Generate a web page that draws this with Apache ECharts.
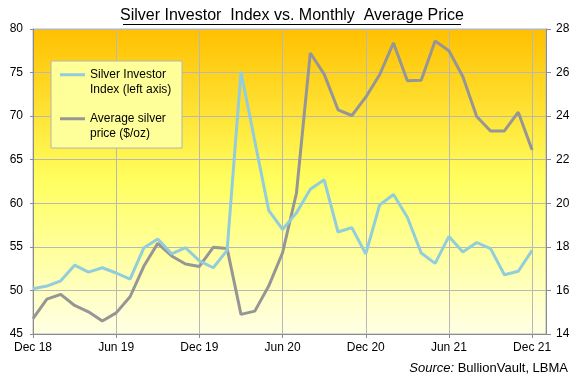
<!DOCTYPE html>
<html>
<head>
<meta charset="utf-8">
<script src="https://cdn.jsdelivr.net/npm/echarts@6/dist/echarts.min.js"></script>
<style>
html,body{margin:0;padding:0;background:#fff;}
#chart{width:575px;height:381px;}
</style>
</head>
<body>
<div id="chart"></div>
<script>
var months = ['Dec 18','Jan 19','Feb 19','Mar 19','Apr 19','May 19','Jun 19','Jul 19','Aug 19','Sep 19','Oct 19','Nov 19',
  'Dec 19','Jan 20','Feb 20','Mar 20','Apr 20','May 20','Jun 20','Jul 20','Aug 20','Sep 20','Oct 20','Nov 20',
  'Dec 20','Jan 21','Feb 21','Mar 21','Apr 21','May 21','Jun 21','Jul 21','Aug 21','Sep 21','Oct 21','Nov 21',
  'Dec 21',''];
var investorIndex = [50.2,50.5,51.1,52.9,52.1,52.6,52.0,51.3,54.9,55.9,54.2,54.9,
  53.4,52.6,54.6,75.1,67.1,59.2,57.0,58.9,61.6,62.7,56.7,57.2,
  54.2,59.8,61.0,58.4,54.3,53.1,56.2,54.4,55.5,54.8,51.8,52.2,
  54.6];
var silverPrice = [14.71,15.60,15.82,15.31,15.02,14.60,14.97,15.71,17.12,18.16,17.58,17.21,
  17.10,17.98,17.93,14.90,15.05,16.20,17.73,20.46,26.90,25.93,24.29,24.03,
  24.87,25.90,27.36,25.62,25.65,27.45,27.00,25.82,23.98,23.32,23.32,24.18,
  22.45];
var seriesNames = ['Silver Investor\nIndex (left axis)', 'Average silver\nprice ($/oz)'];
var titleText = 'Silver Investor  Index vs. Monthly  Average Price';

var chart = echarts.init(document.getElementById('chart'));
var font = 'Liberation Sans, Arial, sans-serif';
chart.setOption({
  animation: false,
  textStyle: {fontFamily: font},
  grid: {
    left: 33, right: 29, top: 29, bottom: 47,
    show: true,
    borderColor: '#b4b4b4', borderWidth: 1,
    backgroundColor: {
      type: 'linear', x: 0, y: 0, x2: 0, y2: 1,
      colorStops: [
        {offset: 0, color: '#FFC000'},
        {offset: 0.5, color: '#FFFF60'},
        {offset: 1, color: '#FFFFE6'}
      ]
    }
  },
  xAxis: {
    type: 'category',
    data: months,
    boundaryGap: false,
    axisLine: {lineStyle: {color: '#8c8c8c', width: 1}},
    axisTick: {interval: 5, length: 4, lineStyle: {color: '#8c8c8c'}},
    axisLabel: {interval: 5, color: '#000', fontSize: 12, margin: 8, fontFamily: font},
    splitLine: {show: true, interval: 5, lineStyle: {color: '#b8b8b8', width: 1}}
  },
  yAxis: [
    {
      type: 'value', min: 45, max: 80, interval: 5, position: 'left',
      axisLine: {show: true, lineStyle: {color: '#8c8c8c'}},
      axisTick: {show: true, length: 3, lineStyle: {color: '#8c8c8c'}},
      axisLabel: {color: '#000', fontSize: 12, margin: 10, fontFamily: font},
      splitLine: {show: true, lineStyle: {color: '#b8b8b8', width: 1}}
    },
    {
      type: 'value', min: 14, max: 28, interval: 2, position: 'right',
      axisLine: {show: true, lineStyle: {color: '#8c8c8c'}},
      axisTick: {show: true, length: 5, lineStyle: {color: '#8c8c8c'}},
      axisLabel: {color: '#000', fontSize: 12, margin: 10, fontFamily: font},
      splitLine: {show: false}
    }
  ],
  legend: {
    orient: 'vertical',
    left: 60, top: 53,
    padding: 0,
    itemGap: 0.5,
    itemWidth: 25, itemHeight: 3,
    icon: 'rect',
    formatter: function (name) { return '\n' + name; },
    textStyle: {color: '#000', fontSize: 12, lineHeight: 14.5, fontFamily: font},
    data: seriesNames
  },
  graphic: [
    {type: 'rect', z: 3, shape: {x: 51, y: 61, width: 131, height: 87},
      style: {fill: '#FFFF99', stroke: '#b4b4b4', lineWidth: 1}},
    {type: 'text', z: 5, x: 292, y: 16,
      style: {text: titleText, fill: '#000', font: '16px ' + font, align: 'center', verticalAlign: 'middle'}},
    {type: 'line', z: 5, shape: {x1: 123, y1: 24.5, x2: 461, y2: 24.5},
      style: {stroke: '#000', lineWidth: 1}},
    {type: 'text', z: 5, right: 7, top: 362,
      style: {
        text: '{i|Source:} BullionVault, LBMA',
        fill: '#000', font: '13px ' + font,
        rich: {i: {fontStyle: 'italic', fontSize: 13, fontFamily: font, fill: '#000'}}
      }}
  ],
  series: [
    {
      name: seriesNames[0], type: 'line', yAxisIndex: 0, data: investorIndex,
      symbol: 'none', lineStyle: {color: '#92CDDC', width: 3}, itemStyle: {color: '#92CDDC'}, z: 3
    },
    {
      name: seriesNames[1], type: 'line', yAxisIndex: 1, data: silverPrice,
      symbol: 'none', lineStyle: {color: '#969696', width: 3}, itemStyle: {color: '#969696'}, z: 2
    }
  ]
});
</script>
</body>
</html>
